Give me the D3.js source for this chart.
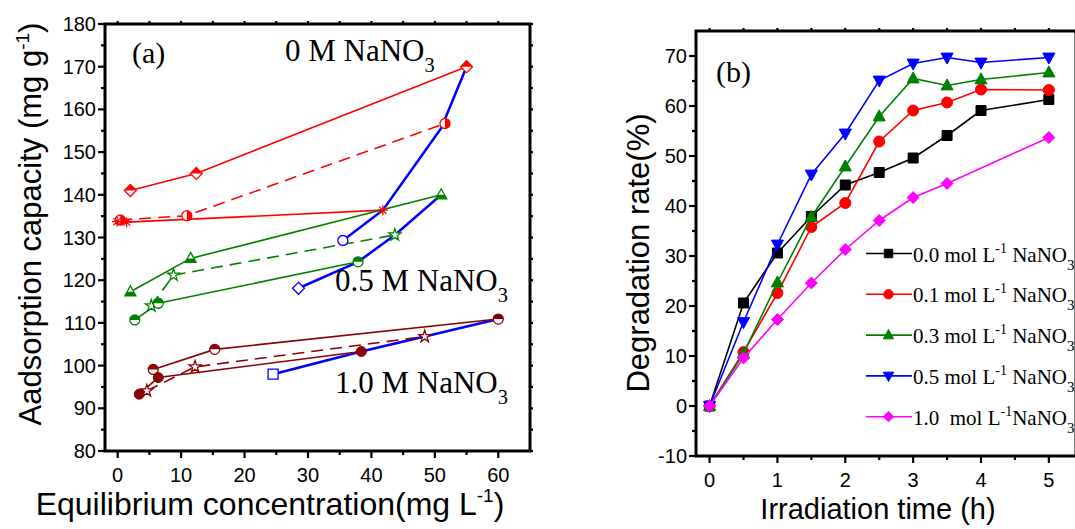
<!DOCTYPE html>
<html>
<head>
<meta charset="utf-8">
<script src="https://cdn.jsdelivr.net/npm/d3@7"></script>
<style>
  body { margin: 0; background: #fff; }
  svg { display: block; }
  text { white-space: pre; }
</style>
</head>
<body>
<div id="container"></div>
<script>
/**
 * CONSTANTS AND GLOBALS
 * */
const width = 1075, height = 529;
const sans = "'Liberation Sans', Arial, sans-serif";
const serif = "'Liberation Serif', 'Times New Roman', serif";

/**
 * DATA - panel (a): [Ce, qe] pairs
 * */
const redDiamond  = [[2, 141], [12.4, 145], [55, 170]];
const redCircle   = [[0.4, 134.1], [10.9, 135.1], [51.6, 156.7]];
const redAsterisk = [[-0.1, 133.7], [1.4, 133.6], [41.8, 136.4]];
const greenTri    = [[2, 117.3], [11.5, 125.1], [51, 140]];
const greenStar   = [[5.3, 114], [8.8, 121.2], [43.7, 130.6]];
const greenCircle = [[2.7, 110.7], [6.4, 114.6], [37.9, 124.3]];
const brownCircleHalf = [[5.6, 99.1], [15.3, 103.8], [60, 110.9]];
const brownCircle = [[3.4, 93.3], [6.4, 97.2], [38.4, 103.3]];
const brownStar   = [[4.6, 94.1], [12.2, 99.7], [48.4, 106.8]];
const blueCircleLine  = [[35.5, 129.3], [41.8, 136.4], [51, 155.6], [55, 170]];
const blueDiamondLine = [[28.5, 118.1], [37.9, 124.3], [43.7, 130.6], [51, 140]];
const blueSquareLine  = [[24.5, 98], [38.4, 103.3], [48.4, 106.8], [60, 110.9]];

const xTicksA = [0, 10, 20, 30, 40, 50, 60];
const yTicksA = [80, 90, 100, 110, 120, 130, 140, 150, 160, 170, 180];

/**
 * DATA - panel (b): degradation rate (%) vs irradiation time (h)
 * */
const times  = [0, 0.5, 1, 1.5, 2, 2.5, 3, 3.5, 4, 5];
const rate00 = [0, 20.6, 30.6, 37.9, 44.2, 46.7, 49.6, 54.1, 59.1, 61.3];
const rate01 = [0, 10.8, 22.6, 35.8, 40.6, 52.9, 59.1, 60.7, 63.3, 63.2];
const rate03 = [0, 10.5, 24.7, 37.8, 47.9, 57.9, 65.5, 64.1, 65.3, 66.7];
const rate05 = [0, 16.8, 32.3, 46.3, 54.5, 65.1, 68.5, 69.7, 68.7, 69.7];
const rate10 = [0, 9.6, 17.3, 24.6, 31.3, 37.1, 41.7, 44.5, null, 53.7];
const legendConc = ["0.0", "0.1", "0.3", "0.5", "1.0"];

const xTicksB = [0, 1, 2, 3, 4, 5];
const yTicksB = [-10, 0, 10, 20, 30, 40, 50, 60, 70];

/**
 * APPLICATION STATE
 * */
let svg;

init();

/**
 * INITIALIZING FUNCTION
 * */
function init() {
  svg = d3.select("#container")
    .append("svg")
    .attr("width", width)
    .attr("height", height)
    .style("background", "#fff");

  // clip paths used for half-filled symbols
  const defs = svg.append("defs");
  const halves = {
    top: [-20, -20, 40, 20], bottom: [-20, 0, 40, 20],
    left: [-20, -20, 20, 40], right: [0, -20, 20, 40]
  };
  Object.entries(halves).forEach(([k, r]) => {
    defs.append("clipPath").attr("id", "half-" + k)
      .append("rect").attr("x", r[0]).attr("y", r[1]).attr("width", r[2]).attr("height", r[3]);
  });

  drawPanelA();
  drawPanelB();
}

/**
 * SYMBOLS
 * */
function markerPath(type, s) {
  switch (type) {
    case "circle":
      return `M${-s},0A${s},${s} 0 1,0 ${s},0A${s},${s} 0 1,0 ${-s},0Z`;
    case "square":
      return `M${-s},${-s}H${s}V${s}H${-s}Z`;
    case "diamond":
      return `M0,${-s * 1.2}L${s * 1.2},0L0,${s * 1.2}L${-s * 1.2},0Z`;
    case "triangle":
      return `M0,${-s * 1.2}L${s * 1.1},${s * 0.8}L${-s * 1.1},${s * 0.8}Z`;
    case "triangleDown":
      return `M0,${s * 1.2}L${s * 1.1},${-s * 0.8}L${-s * 1.1},${-s * 0.8}Z`;
    case "star":
      return d3.symbol(d3.symbolStar, s * s * 1.5)();
    case "asterisk": {
      let p = "";
      for (let i = 0; i < 4; i++) {
        const a = i * Math.PI / 4;
        p += `M${-s * Math.cos(a)},${-s * Math.sin(a)}L${s * Math.cos(a)},${s * Math.sin(a)}`;
      }
      return p;
    }
  }
}

function drawMarker(g, type, fill, color, size) {
  const p = markerPath(type, size);
  if (type === "asterisk") {
    g.append("path").attr("d", p).attr("stroke", color).attr("stroke-width", 1.3).attr("fill", "none");
    return;
  }
  if (fill === "full") {
    g.append("path").attr("d", p).attr("fill", color).attr("stroke", color).attr("stroke-width", 1);
    return;
  }
  g.append("path").attr("d", p).attr("fill", "#fff").attr("stroke", color).attr("stroke-width", 1.3);
  if (fill !== "open") {
    g.append("path").attr("d", p).attr("fill", color).attr("clip-path", `url(#half-${fill})`);
  }
}

/**
 * AXES HELPER - Origin style frame with major and minor ticks
 * */
function frame(g, x, y, xTicks, yTicks, xMinor, yMinor, opts) {
  const [x0, x1] = x.range();
  const [y0, y1] = y.range(); // y0 bottom, y1 top
  const minorLen = 4, majorLen = 7;

  const tick = (x1_, y1_, x2_, y2_) => g.append("line")
    .attr("x1", x1_).attr("y1", y1_).attr("x2", x2_).attr("y2", y2_)
    .attr("stroke", "#000").attr("stroke-width", 2.2);

  // bottom axis
  xMinor.forEach(v => tick(x(v), y0, x(v), y0 + minorLen));
  xTicks.forEach(v => tick(x(v), y0, x(v), y0 + majorLen));
  // top axis (small mirrored ticks)
  xMinor.concat(xTicks).forEach(v => tick(x(v), y1, x(v), y1 - 3));
  // left axis
  yMinor.forEach(v => tick(x0, y(v), x0 - minorLen, y(v)));
  yTicks.forEach(v => tick(x0, y(v), x0 - majorLen, y(v)));
  // right axis
  yMinor.concat(yTicks).forEach(v => tick(x1, y(v), x1 + 3, y(v)));

  g.append("rect")
    .attr("x", x0).attr("y", y1)
    .attr("width", x1 - x0).attr("height", y0 - y1)
    .attr("fill", "none").attr("stroke", "#000").attr("stroke-width", 3);

  g.selectAll("text.xtick")
    .data(xTicks)
    .join("text")
    .attr("class", "xtick")
    .attr("x", d => x(d))
    .attr("y", opts.xLabelY)
    .attr("text-anchor", "middle")
    .attr("font-family", sans)
    .attr("font-size", 20)
    .text(d => d);

  g.selectAll("text.ytick")
    .data(yTicks)
    .join("text")
    .attr("class", "ytick")
    .attr("x", x0 - 9)
    .attr("y", d => y(d) + 7)
    .attr("text-anchor", "end")
    .attr("font-family", sans)
    .attr("font-size", 20)
    .text(d => d);
}

function annotation(g, x, y, main, sub, size) {
  const t = g.append("text")
    .attr("x", x).attr("y", y)
    .attr("font-family", serif)
    .attr("font-size", size);
  t.append("tspan").text(main);
  if (sub) t.append("tspan").attr("dy", 11).attr("font-size", size * 0.66).text(sub);
}

/**
 * PANEL (a)
 * */
function drawPanelA() {
  const g = svg.append("g");
  const x = d3.scaleLinear().domain([-2, 65]).range([105, 530]);
  const y = d3.scaleLinear().domain([80, 180]).range([451, 24]);

  const line = d3.line().x(d => x(d[0])).y(d => y(d[1]));

  const series = [
    { data: blueCircleLine,  color: "#0000ff", width: 2.6, marker: "circle",  fill: "open", firstOnly: true },
    { data: blueDiamondLine, color: "#0000ff", width: 2.6, marker: "diamond", fill: "open", firstOnly: true },
    { data: blueSquareLine,  color: "#0000ff", width: 2.6, marker: "square",  fill: "open", firstOnly: true },
    { data: redDiamond,  color: "#ff0000", width: 1.6, marker: "diamond",  fill: "top" },
    { data: redCircle,   color: "#ff0000", width: 1.6, marker: "circle",   fill: "right", dash: "12,7" },
    { data: redAsterisk, color: "#ff0000", width: 1.6, marker: "asterisk", fill: "open" },
    { data: greenTri,    color: "#008000", width: 1.6, marker: "triangle", fill: "bottom" },
    { data: greenStar,   color: "#008000", width: 1.6, marker: "star",     fill: "open", dash: "12,7" },
    { data: greenCircle, color: "#008000", width: 1.6, marker: "circle",   fill: "top" },
    { data: brownCircleHalf, color: "#8b0000", width: 1.6, marker: "circle", fill: "top" },
    { data: brownCircle,     color: "#8b0000", width: 1.6, marker: "circle", fill: "full" },
    { data: brownStar,       color: "#8b0000", width: 1.6, marker: "star",   fill: "open", dash: "12,7" }
  ];

  series.forEach(s => {
    g.append("path")
      .attr("d", line(s.data))
      .attr("fill", "none")
      .attr("stroke", s.color)
      .attr("stroke-width", s.width)
      .attr("stroke-dasharray", s.dash || null);
  });
  series.forEach(s => {
    const pts = s.firstOnly ? s.data.slice(0, 1) : s.data;
    pts.forEach(d => {
      const m = g.append("g").attr("transform", `translate(${x(d[0])},${y(d[1])})`);
      drawMarker(m, s.marker, s.fill, s.color, s.marker === "star" ? 5.5 : 5);
    });
  });

  frame(g, x, y, xTicksA, yTicksA, d3.range(-0, 65, 5).filter(v => v % 10), d3.range(85, 180, 10),
    { xLabelY: 482 });

  // axis titles
  const xt = g.append("text")
    .attr("x", 270).attr("y", 515)
    .attr("text-anchor", "middle")
    .attr("font-family", sans).attr("font-size", 32);
  xt.append("tspan").text("Equilibrium concentration(mg L");
  xt.append("tspan").attr("dy", -13).attr("font-size", 19).text("-1");
  xt.append("tspan").attr("dy", 13).text(")");

  const yt = g.append("text")
    .attr("transform", "translate(41,224) rotate(-90)")
    .attr("text-anchor", "middle")
    .attr("font-family", sans).attr("font-size", 31);
  yt.append("tspan").text("Aadsorption capacity (mg g");
  yt.append("tspan").attr("dy", -12).attr("font-size", 19).text("-1");
  yt.append("tspan").attr("dy", 12).text(")");

  annotation(g, 132, 63, "(a)", null, 30);
  annotation(g, 285, 61, "0 M NaNO", "3", 31);
  annotation(g, 335, 291, "0.5 M NaNO", "3", 31);
  annotation(g, 335, 393, "1.0 M NaNO", "3", 31);
}

/**
 * PANEL (b)
 * */
function drawPanelB() {
  const g = svg.append("g");
  const x = d3.scaleLinear().domain([-0.2, 5.4]).range([696, 1076]);
  const y = d3.scaleLinear().domain([-10, 75]).range([456, 31]);

  const series = [
    { values: rate00, color: "#000000", marker: "square",       size: 5 },
    { values: rate01, color: "#ff0000", marker: "circle",       size: 5.5 },
    { values: rate03, color: "#008000", marker: "triangle",     size: 5.5 },
    { values: rate05, color: "#0000ff", marker: "triangleDown", size: 5.5 },
    { values: rate10, color: "#ff00ff", marker: "diamond",      size: 5 }
  ];

  const line = d3.line()
    .defined(d => d[1] != null)
    .x(d => x(d[0])).y(d => y(d[1]));

  series.forEach(s => {
    const pts = times.map((t, i) => [t, s.values[i]]).filter(d => d[1] != null);
    g.append("path")
      .attr("d", line(pts))
      .attr("fill", "none")
      .attr("stroke", s.color)
      .attr("stroke-width", 1.6);
    pts.forEach(d => {
      const m = g.append("g").attr("transform", `translate(${x(d[0])},${y(d[1])})`);
      drawMarker(m, s.marker, "full", s.color, s.size);
    });
  });

  frame(g, x, y, xTicksB, yTicksB, [0.5, 1.5, 2.5, 3.5, 4.5], d3.range(-5, 75, 10),
    { xLabelY: 487 });

  // legend
  series.forEach((s, i) => {
    const ly = 253.5 + i * 40.8;
    g.append("line")
      .attr("x1", 866).attr("x2", 912).attr("y1", ly).attr("y2", ly)
      .attr("stroke", s.color).attr("stroke-width", 1.6);
    const m = g.append("g").attr("transform", `translate(888.5,${ly})`);
    drawMarker(m, s.marker, "full", s.color, s.size * 0.85);
    const t = g.append("text")
      .attr("x", 913).attr("y", ly + 8)
      .attr("font-family", serif).attr("font-size", 21);
    const last = i === series.length - 1;
    t.append("tspan").text(legendConc[i] + (last ? "  mol L" : " mol L"));
    t.append("tspan").attr("dy", -9).attr("font-size", 14).text("-1");
    t.append("tspan").attr("dy", 9).text(last ? "NaNO" : " NaNO");
    t.append("tspan").attr("dy", 8).attr("font-size", 15).text("3");
  });

  annotation(g, 716, 82, "(b)", null, 30);

  g.append("text")
    .attr("x", 878).attr("y", 519)
    .attr("text-anchor", "middle")
    .attr("font-family", sans).attr("font-size", 29)
    .text("Irradiation time (h)");

  g.append("text")
    .attr("transform", "translate(649,253) rotate(-90)")
    .attr("text-anchor", "middle")
    .attr("font-family", sans).attr("font-size", 31)
    .text("Degradation rate(%)");
}
</script>
</body>
</html>
